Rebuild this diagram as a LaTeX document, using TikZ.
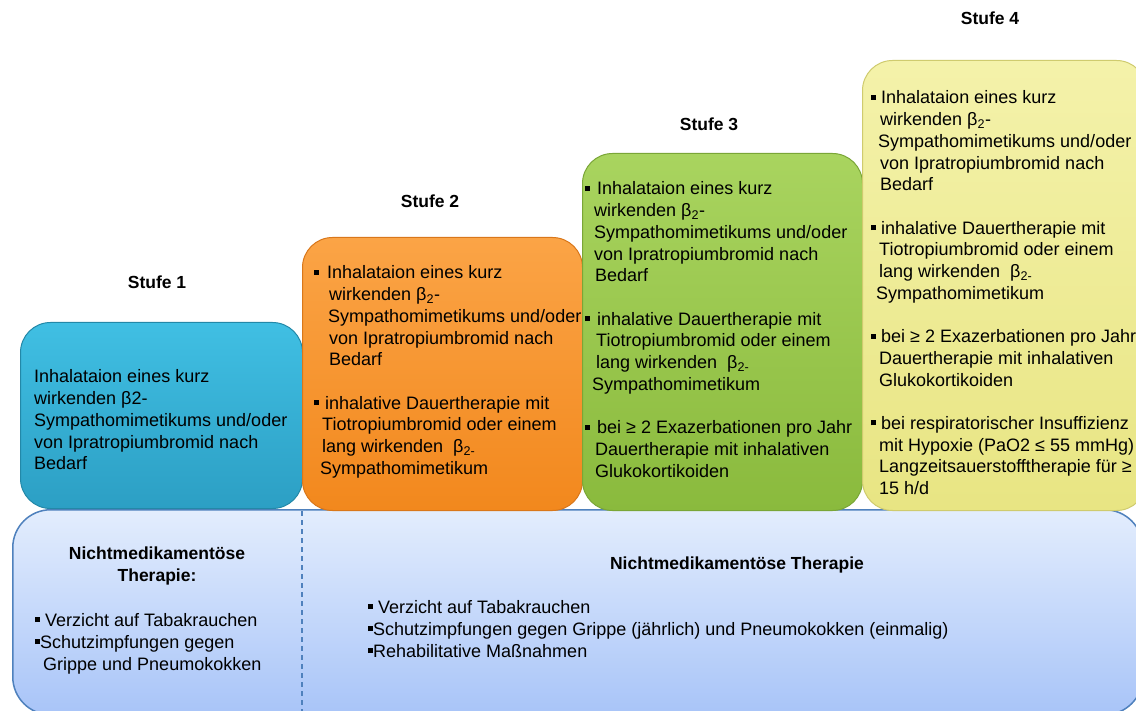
\documentclass[tikz,border=0pt]{standalone}
\usepackage{fontspec}
\setmainfont{Liberation Sans}
\usetikzlibrary{shadings}
\definecolor{bluetop}{HTML}{40BFE3}
\definecolor{bluebot}{HTML}{2C9FC4}
\definecolor{blueedge}{HTML}{2388A8}
\definecolor{orgtop}{HTML}{FBA446}
\definecolor{orgbot}{HTML}{F2881D}
\definecolor{orgedge}{HTML}{D9771A}
\definecolor{grntop}{HTML}{A9D45F}
\definecolor{grnbot}{HTML}{8ABA3D}
\definecolor{grnedge}{HTML}{7AA637}
\definecolor{yeltop}{HTML}{F4F2AA}
\definecolor{yelbot}{HTML}{E8E583}
\definecolor{yeledge}{HTML}{CFCB6E}
\definecolor{ntop}{HTML}{E3EDFD}
\definecolor{nbot}{HTML}{A8C4F8}
\definecolor{nedge}{HTML}{4F81BD}
\newcommand\bq{\raisebox{4pt}{\rule{5pt}{5pt}}}
\newcommand\hs[1]{\hspace*{#1pt}}
\tikzset{
  stepbox/.style={rectangle, rounded corners=30pt, anchor=north west, inner sep=0pt, line width=1pt},
  txt/.style={font=\fontsize{18}{21.7}\selectfont, inner sep=0pt, anchor=base west},
  hd/.style={font=\bfseries\fontsize{17.5}{22}\selectfont, inner sep=0pt, anchor=base},
}
\begin{document}
\begin{tikzpicture}[x=1pt,y=-1pt]
\clip (0,0) rectangle (1136,711);
\fill[white] (0,0) rectangle (1136,711);
% bottom box
\node[stepbox, rounded corners=38pt, draw=nedge, line width=1.5pt, top color=ntop, bottom color=nbot,
      minimum width=1130pt, minimum height=205pt] (nm) at (12,509) {};
\coordinate (d1) at (302,511);
\coordinate (d2) at (302,711);
\draw[nedge, line width=1.4pt, dash pattern=on 5pt off 4pt] (d1) -- (d2);
% step boxes
\node[stepbox, draw=blueedge, top color=bluetop, bottom color=bluebot, minimum width=282pt, minimum height=186pt] (b1) at (20,322) {};
\node[stepbox, draw=orgedge, top color=orgtop, bottom color=orgbot, minimum width=280pt, minimum height=273pt] (b2) at (302,237) {};
\node[stepbox, draw=grnedge, top color=grntop, bottom color=grnbot, minimum width=280pt, minimum height=357pt] (b3) at (582,153) {};
\node[stepbox, draw=yeledge, top color=yeltop, bottom color=yelbot, minimum width=284pt, minimum height=450pt] (b4) at (862,60) {};
% labels
\node[hd] (l1) at (157,289) {Stufe 1};
\node[hd] (l2) at (430,208) {Stufe 2};
\node[hd] (l3) at (709,131) {Stufe 3};
\node[hd] (l4) at (990,25) {Stufe 4};
% box texts
\node[txt] (t1) at (34,383) {\begin{tabular}[t]{@{}l@{}}
Inhalataion eines kurz\\
wirkenden β2-\\
Sympathomimetikums und/oder\\
von Ipratropiumbromid nach\\
Bedarf
\end{tabular}};
\node[txt] (t2) at (314,279) {\begin{tabular}[t]{@{}l@{}}
\bq\hs{8}Inhalataion eines kurz\\
\hs{15}wirkenden β\textsubscript{2}-\\
\hs{14}Sympathomimetikums und/oder\\
\hs{15}von Ipratropiumbromid nach\\
\hs{15}Bedarf\\
\\
\bq\hs{6}inhalative Dauertherapie mit\\
\hs{8}Tiotropiumbromid oder einem\\
\hs{8}lang wirkenden\ \ β\textsubscript{2-}\\
\hs{6}Sympathomimetikum
\end{tabular}};
\node[txt] (t3) at (585,195) {\begin{tabular}[t]{@{}l@{}}
\bq\hs{7}Inhalataion eines kurz\\
\hs{9}wirkenden β\textsubscript{2}-\\
\hs{9}Sympathomimetikums und/oder\\
\hs{9}von Ipratropiumbromid nach\\
\hs{10}Bedarf\\
\\
\bq\hs{7}inhalative Dauertherapie mit\\
\hs{11}Tiotropiumbromid oder einem\\
\hs{11}lang wirkenden\ \ β\textsubscript{2-}\\
\hs{7}Sympathomimetikum\\
\\
\bq\hs{7}bei ≥ 2 Exazerbationen pro Jahr\\
\hs{10}Dauertherapie mit inhalativen\\
\hs{10}Glukokortikoiden
\end{tabular}};
\node[txt] (t4) at (871,104) {\begin{tabular}[t]{@{}l@{}}
\bq\hs{5}Inhalataion eines kurz\\
\hs{9}wirkenden β\textsubscript{2}-\\
\hs{7}Sympathomimetikums und/oder\\
\hs{9}von Ipratropiumbromid nach\\
\hs{9}Bedarf\\
\\
\bq\hs{5}inhalative Dauertherapie mit\\
\hs{8}Tiotropiumbromid oder einem\\
\hs{8}lang wirkenden\ \ β\textsubscript{2-}\\
\hs{5}Sympathomimetikum\\
\\
\bq\hs{5}bei ≥ 2 Exazerbationen pro Jahr\\
\hs{8}Dauertherapie mit inhalativen\\
\hs{8}Glukokortikoiden\\
\\
\bq\hs{5}bei respiratorischer Insuffizienz\\
\hs{8}mit Hypoxie (PaO2 ≤ 55 mmHg)\\
\hs{8}Langzeitsauerstofftherapie für ≥\\
\hs{8}15 h/d
\end{tabular}};
% bottom texts
\node[hd, font=\bfseries\fontsize{17.5}{22}\selectfont] (h1) at (157,559) {\begin{tabular}[t]{@{}c@{}}Nichtmedikamentöse\\Therapie:\end{tabular}};
\node[txt, font=\fontsize{18}{22}\selectfont] (n1) at (35,626) {\begin{tabular}[t]{@{}l@{}}
\bq\hs{5}Verzicht auf Tabakrauchen\\
\bq Schutzimpfungen gegen\\
\hs{8}Grippe und Pneumokokken
\end{tabular}};
\node[hd] (h2) at (737,569) {Nichtmedikamentöse Therapie};
\node[txt, font=\fontsize{18}{22}\selectfont] (n2) at (368,613) {\begin{tabular}[t]{@{}l@{}}
\bq\hs{5}Verzicht auf Tabakrauchen\\
\bq Schutzimpfungen gegen Grippe (jährlich) und Pneumokokken (einmalig)\\
\bq Rehabilitative Maßnahmen
\end{tabular}};
\end{tikzpicture}
\end{document}
